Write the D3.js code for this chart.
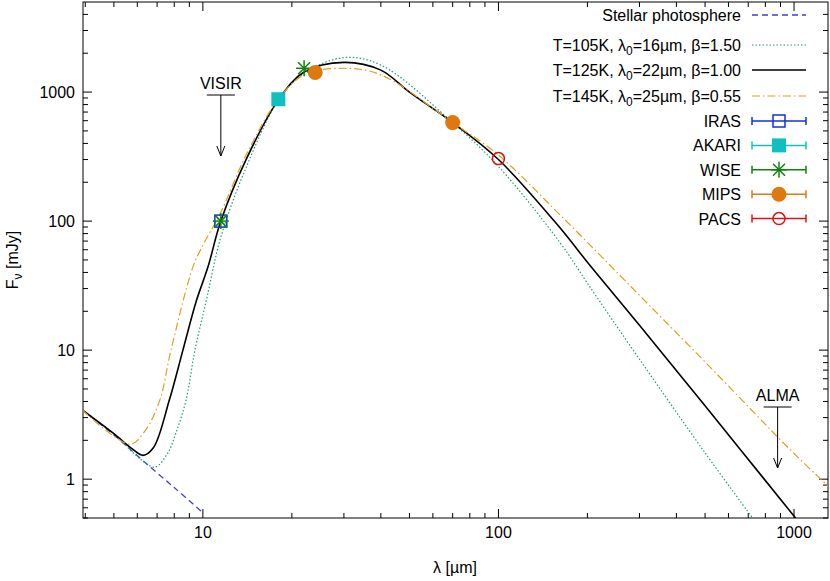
<!DOCTYPE html><html><head><meta charset="utf-8"><script src="https://d3js.org/d3.v7.min.js"></script>
<style>body{margin:0;background:#fff}text{font-family:"Liberation Sans",Arial,sans-serif;font-size:16px;fill:#000}</style></head><body><svg id="c" width="830" height="581"></svg><script>
const photoL=[3.9,5,6,8,10],photoF=[3.45,2.2,1.52,0.86,0.55];
const t125L=[3.9,5,5.8,6.27,6.8,7.7,8.56,9.5,10.4,11.5,14,18,22,30,40,50,70,100,162,200,300,500,1012];
const t125F=[3.45,2.25,1.7,1.53,1.75,4.1,10,24,44,100,300,870,1430,1700,1480,1000,580,300,88,48,15.6,3.7,0.5];
const t105L=[3.9,5,6,6.88,7.6,8.1,8.77,9.4,10.3,11.5,14,18,22,30,40,70,100,162,200,300,500,724];
const t105F=[3.45,2.25,1.5,1.24,1.59,2.27,4.1,10,25,75,260,860,1400,1850,1620,580,265,67.5,33,8.5,1.6,0.5];
const t145L=[3.9,4.8,5.71,6.4,7.15,7.8,9.25,10,11.5,14,18,22,30,40,70,100,162,300,500,1000,1330];
const t145F=[3.45,2.3,1.87,2.4,4.1,10,44,65,117,325,880,1360,1530,1360,580,325,111,26.6,8.1,1.58,0.85];
const iras=[[11.5,100]],akari=[[18,880]],wise=[[11.5,100],[22,1530]],mips=[[24,1420],[70,580]],pacs=[[100,305]];
const xTicks=[10,100,1000],yTicks=[1,10,100,1000];
const svg=d3.select("#c");
const L=83,R=828,T=2,B=518;
const x=d3.scaleLog().domain([3.93,1303]).range([L,R]);
const y=d3.scaleLog().domain([0.5,4990]).range([B,T]);
const defs=svg.append("defs");defs.append("clipPath").attr("id","cp").append("rect").attr("x",L).attr("y",T).attr("width",R-L).attr("height",B-T);
const g=svg.append("g");
const minorX=[];for(let d=1;d<=1000;d*=10)for(let k=1;k<10;k++){const v=d*k;if(v>=4&&v<=1300)minorX.push(v);}
const minorY=[];for(let d=0.1;d<=1000;d*=10)for(let k=1;k<10;k++){const v=d*k;if(v>=0.5&&v<=4990)minorY.push(v);}
minorX.forEach(v=>{const len=xTicks.includes(v)?9:5;g.append("line").attr("x1",x(v)).attr("x2",x(v)).attr("y1",B).attr("y2",B-len).attr("stroke","#000");g.append("line").attr("x1",x(v)).attr("x2",x(v)).attr("y1",T).attr("y2",T+len).attr("stroke","#000");});
minorY.forEach(v=>{const big=yTicks.some(t=>Math.abs(t-v)<1e-6);const len=big?9:5;g.append("line").attr("y1",y(v)).attr("y2",y(v)).attr("x1",L).attr("x2",L+len).attr("stroke","#000");g.append("line").attr("y1",y(v)).attr("y2",y(v)).attr("x1",R).attr("x2",R-len).attr("stroke","#000");});
xTicks.forEach(v=>g.append("text").attr("x",x(v)).attr("y",B+20).attr("text-anchor","middle").text(v));
yTicks.forEach(v=>g.append("text").attr("x",L-8).attr("y",y(v)+6).attr("text-anchor","end").text(v));
g.append("rect").attr("x",L).attr("y",T).attr("width",R-L).attr("height",B-T).attr("fill","none").attr("stroke","#000");
svg.append("text").attr("x",455).attr("y",573).attr("text-anchor","middle").text("λ [µm]");
const yl=svg.append("text").attr("transform","translate(18,260) rotate(-90)").attr("text-anchor","middle");
yl.append("tspan").text("F");yl.append("tspan").attr("dy",4).attr("font-size","12px").text("ν");yl.append("tspan").attr("dy",-4).text(" [mJy]");
const line=d3.line().x(d=>x(d[0])).y(d=>y(d[1])).curve(d3.curveCatmullRom.alpha(0.5));
const P=svg.append("g").attr("clip-path","url(#cp)");
const zip=(a,b)=>a.map((v,i)=>[v,b[i]]);
const styles=[
 {d:zip(photoL,photoF),c:"#4040c8",dash:"6,4",w:1.3},
 {d:zip(t105L,t105F),c:"#20a070",dash:"1.5,2",w:1.2},
 {d:zip(t125L,t125F),c:"#000",dash:null,w:1.6},
 {d:zip(t145L,t145F),c:"#e0a020",dash:"8,3,1.5,3",w:1.2}];
styles.forEach(s=>P.append("path").attr("d",line(s.d)).attr("fill","none").attr("stroke",s.c).attr("stroke-width",s.w).attr("stroke-dasharray",s.dash));
function marker(gr,cx,cy,type,c){
 if(type=="osq")gr.append("rect").attr("x",cx-6).attr("y",cy-6).attr("width",12).attr("height",12).attr("fill","none").attr("stroke",c).attr("stroke-width",1.5);
 if(type=="fsq")gr.append("rect").attr("x",cx-7).attr("y",cy-7).attr("width",14).attr("height",14).attr("fill",c);
 if(type=="star"){[[-8,0,8,0],[0,-8,0,8],[-6,-6,6,6],[-6,6,6,-6]].forEach(a=>gr.append("line").attr("x1",cx+a[0]).attr("y1",cy+a[1]).attr("x2",cx+a[2]).attr("y2",cy+a[3]).attr("stroke",c).attr("stroke-width",1.5));}
 if(type=="fc")gr.append("circle").attr("cx",cx).attr("cy",cy).attr("r",7.5).attr("fill",c);
 if(type=="oc")gr.append("circle").attr("cx",cx).attr("cy",cy).attr("r",6).attr("fill","none").attr("stroke",c).attr("stroke-width",1.5);
}
const sets=[{n:"IRAS",d:iras,t:"osq",c:"#1030e0"},{n:"AKARI",d:akari,t:"fsq",c:"#10c0c0"},{n:"WISE",d:wise,t:"star",c:"#108010"},{n:"MIPS",d:mips,t:"fc",c:"#e07810"},{n:"PACS",d:pacs,t:"oc",c:"#e01010"}];
sets.forEach(s=>s.d.forEach(p=>marker(svg,x(p[0]),y(p[1]),s.t,s.c)));
function arrow(lam,y0,y1,label){const X=x(lam);svg.append("line").attr("x1",X-14).attr("x2",X+14).attr("y1",y0).attr("y2",y0).attr("stroke","#000");
svg.append("line").attr("x1",X).attr("x2",X).attr("y1",y0).attr("y2",y1).attr("stroke","#000");
svg.append("path").attr("d",`M${X-4},${y1-10}L${X},${y1}L${X+4},${y1-10}`).attr("fill","none").attr("stroke","#000");
svg.append("text").attr("x",X).attr("y",y0-6).attr("text-anchor","middle").text(label);}
arrow(11.5,95,156,"VISIR");arrow(880,407,468,"ALMA");
const lg=svg.append("g");const tx=741,sx1=752,sx2=806;
const rows=[[15,"Stellar photosphere",0],[45,"T=105K, λ|16|1.50",1],[70,"T=125K, λ|22|1.00",2],[96,"T=145K, λ|25|0.55",3]];
rows.forEach(r=>{const t=lg.append("text").attr("x",tx).attr("y",r[0]+6).attr("text-anchor","end");
 if(r[2]==0)t.text(r[1]);else{const p=r[1].split("|");t.append("tspan").text(p[0]);t.append("tspan").attr("dy",4).attr("font-size","12px").text("0");t.append("tspan").attr("dy",-4).text("="+p[1]+"µm, β="+p[2]);}
 const s=styles[r[2]];lg.append("line").attr("x1",sx1).attr("x2",sx2).attr("y1",r[0]).attr("y2",r[0]).attr("stroke",s.c).attr("stroke-width",s.w).attr("stroke-dasharray",s.dash);});
sets.forEach((s,i)=>{const yy=121+i*24.4;lg.append("text").attr("x",tx).attr("y",yy+6).attr("text-anchor","end").text(s.n);
 lg.append("line").attr("x1",sx1).attr("x2",sx2).attr("y1",yy).attr("y2",yy).attr("stroke",s.c).attr("stroke-width",1.5);
 [sx1,sx2].forEach(e=>lg.append("line").attr("x1",e).attr("x2",e).attr("y1",yy-4).attr("y2",yy+4).attr("stroke",s.c).attr("stroke-width",1.5));
 marker(lg,(sx1+sx2)/2,yy,s.t,s.c);});
</script></body></html>
